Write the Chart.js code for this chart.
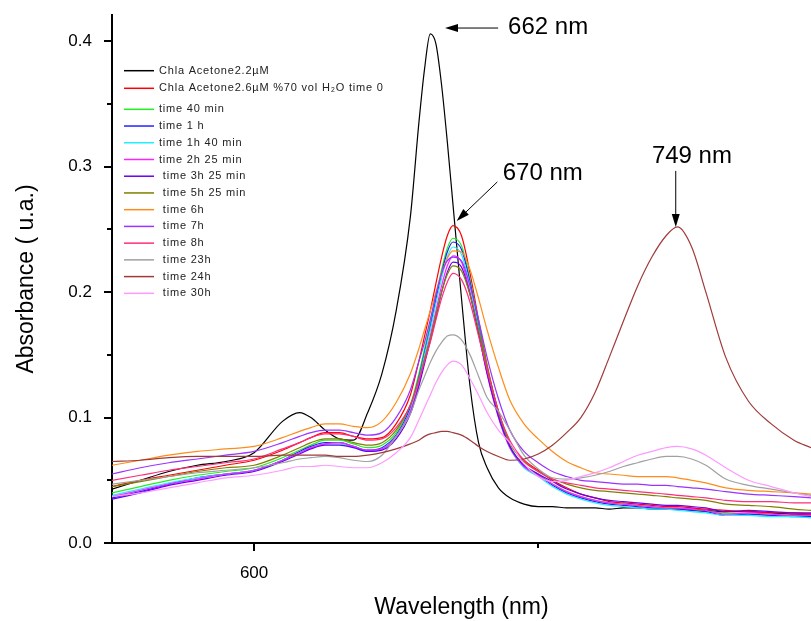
<!DOCTYPE html>
<html lang="en">
<head>
  <meta charset="UTF-8" />
  <title>Chla absorbance</title>
  <script src="https://cdn.jsdelivr.net/npm/chart.js"></script>
  <style>
    html, body { margin: 0; padding: 0; background: #fff; overflow: hidden; }
    canvas { display: block; }
  </style>
</head>
<body>
  <canvas id="grafico" width="811" height="621"></canvas>

  <script>
    // wavelengths (nm) shared by all the spectra
    const wavelengths = [550,560,570,580,590,600,610,616,620,625,630,635,640,645,650,655,658,660,662,664,666,668,670,673,676,679,682,686,690,695,700,705,710,715,720,725,730,735,740,745,749,754,759,766,774,782,790,796];

    const chlaAcetone = [.043,.05,.057,.062,.065,.072,.097,.104,.1,.09,.083,.082,.104,.135,.185,.26,.335,.378,.406,.398,.365,.32,.27,.195,.125,.08,.06,.044,.036,.031,.029,.029,.028,.028,.028,.027,.028,.028,.027,.027,.027,.027,.026,.025,.025,.024,.023,.023];
    const time0 = [.045,.05,.054,.058,.062,.066,.074,.08,.084,.088,.088,.085,.083,.084,.095,.118,.145,.165,.185,.207,.228,.245,.253,.245,.215,.178,.142,.105,.08,.066,.058,.05,.044,.039,.036,.033,.032,.031,.03,.029,.029,.028,.027,.026,.025,.024,.024,.023];
    const time40min = [.04,.045,.05,.054,.057,.06,.068,.074,.078,.082,.082,.079,.076,.078,.088,.11,.135,.155,.175,.197,.218,.235,.243,.237,.21,.175,.14,.103,.078,.062,.055,.047,.041,.037,.034,.032,.031,.03,.029,.028,.027,.026,.025,.024,.023,.022,.022,.021];
    const time1h = [.036,.041,.047,.052,.055,.058,.066,.073,.077,.08,.08,.077,.074,.076,.086,.108,.132,.152,.172,.194,.215,.232,.24,.234,.208,.173,.138,.102,.077,.061,.054,.046,.04,.036,.033,.031,.03,.029,.028,.027,.027,.026,.025,.022,.023,.022,.021,.021];
    const time1h40 = [.038,.043,.048,.052,.055,.058,.066,.072,.076,.079,.079,.076,.073,.075,.085,.106,.13,.15,.17,.191,.211,.228,.236,.23,.205,.171,.137,.101,.076,.06,.053,.045,.039,.035,.032,.03,.029,.028,.027,.027,.026,.025,.024,.022,.022,.021,.021,.02];
    const time2h25 = [.037,.042,.047,.051,.055,.058,.066,.072,.076,.079,.08,.077,.074,.075,.085,.105,.127,.146,.165,.185,.205,.221,.229,.224,.2,.168,.135,.1,.076,.061,.054,.047,.041,.037,.034,.032,.031,.03,.029,.028,.028,.027,.026,.023,.024,.023,.022,.022];
    const time3h25 = [.035,.04,.046,.05,.054,.057,.065,.071,.075,.078,.078,.076,.073,.074,.083,.103,.125,.143,.161,.18,.2,.216,.224,.22,.198,.167,.135,.101,.077,.062,.055,.049,.043,.039,.036,.034,.033,.032,.031,.03,.03,.029,.028,.025,.026,.025,.024,.024];
    const time5h25 = [.045,.049,.053,.057,.06,.062,.07,.076,.08,.083,.083,.08,.078,.08,.09,.11,.13,.147,.163,.182,.2,.214,.221,.217,.198,.17,.14,.105,.08,.065,.057,.051,.047,.044,.042,.041,.04,.039,.038,.037,.036,.035,.034,.031,.03,.029,.027,.026];
    const time6h = [.062,.066,.07,.073,.075,.077,.084,.089,.092,.095,.095,.093,.092,.097,.112,.135,.155,.17,.185,.2,.215,.227,.233,.232,.218,.195,.17,.14,.114,.095,.083,.073,.065,.06,.056,.055,.054,.053,.053,.053,.052,.05,.048,.044,.042,.041,.04,.039];
    const time7h = [.055,.06,.064,.067,.07,.073,.08,.085,.088,.09,.09,.088,.086,.088,.1,.122,.145,.16,.178,.198,.215,.225,.228,.225,.205,.178,.148,.115,.09,.073,.064,.057,.053,.05,.049,.048,.047,.047,.046,.046,.045,.044,.043,.041,.039,.038,.037,.036];
    const time8h = [.05,.054,.058,.061,.064,.067,.075,.08,.084,.087,.087,.085,.082,.083,.092,.11,.13,.145,.16,.178,.195,.208,.215,.21,.192,.165,.138,.105,.082,.066,.057,.051,.048,.046,.044,.043,.042,.041,.04,.039,.038,.037,.036,.034,.033,.033,.032,.032];
    const time23h = [.047,.05,.053,.056,.058,.06,.064,.067,.068,.069,.068,.066,.065,.07,.085,.103,.122,.133,.144,.153,.16,.165,.166,.162,.15,.133,.116,.105,.09,.07,.059,.052,.051,.052,.054,.057,.061,.064,.067,.069,.069,.067,.062,.051,.046,.043,.04,.038];
    const time24h = [.065,.066,.068,.069,.069,.069,.07,.07,.07,.07,.069,.069,.07,.072,.075,.079,.082,.085,.087,.088,.089,.089,.088,.086,.082,.077,.073,.069,.066,.067,.071,.078,.088,.1,.12,.148,.177,.205,.228,.245,.252,.236,.2,.148,.113,.095,.082,.076];
    const time30h = [.037,.04,.044,.048,.052,.054,.058,.061,.061,.062,.061,.06,.06,.064,.072,.084,.098,.108,.118,.128,.136,.142,.145,.142,.131,.118,.104,.09,.08,.063,.053,.049,.05,.053,.056,.06,.065,.07,.073,.076,.077,.075,.07,.06,.05,.045,.04,.037];

    const seriesLabels = [
      'Chla Acetone2.2µM',
      'Chla Acetone2.6µM %70 vol H₂O time 0',
      'time 40 min',
      'time 1 h',
      'time 1h 40 min',
      'time 2h 25 min',
      ' time 3h 25 min',
      ' time 5h 25 min',
      ' time 6h',
      ' time 7h',
      ' time 8h',
      ' time 23h',
      ' time 24h',
      ' time 30h'
    ];
    const seriesValues = [chlaAcetone, time0, time40min, time1h, time1h40, time2h25, time3h25, time5h25, time6h, time7h, time8h, time23h, time24h, time30h];
    const seriesColors = ['#000000', '#ff0000', '#22ee22', '#2222ff', '#22eeff', '#ff22ff', '#6a00ee', '#808000', '#ff8c1a', '#9933ff', '#ff2d7a', '#a0a0a0', '#a03a3a', '#ff99ff'];

    // axis ticks
    const yTicks = [0, 0.1, 0.2, 0.3, 0.4];
    const yMinorTicks = [0.05, 0.15, 0.25, 0.35];
    const xTicks = [600, 700];
    const xTickLabels = ['600', ''];

    // peak annotations: text, arrow tail, arrow tip, text anchor (left / middle)
    const peakLabels = ['662 nm', '670 nm', '749 nm'];
    const arrowTails = [[685.9, 0.4106], [685.6, 0.2879], [748.4, 0.2967]];
    const arrowTips = [[667.2, 0.4106], [671.3, 0.2568], [748.4, 0.252]];
    const peakTextAt = [[689.4, 0.411], [687.5, 0.2948], [740.0, 0.3084]];

    const FONT = '"Liberation Sans", Arial, sans-serif';

    const extras = {
      id: 'extras',
      afterDraw(chart) {
        const { ctx, chartArea: a, scales: { x, y } } = chart;
        ctx.save();
        ctx.strokeStyle = '#000';
        ctx.lineWidth = 2;
        const seg = (x1, y1, x2, y2) => { ctx.beginPath(); ctx.moveTo(x1, y1); ctx.lineTo(x2, y2); ctx.stroke(); };

        // tick marks
        yTicks.forEach(v => { const p = Math.round(y.getPixelForValue(v)); seg(a.left - 8, p, a.left, p); });
        yMinorTicks.forEach(v => { const p = Math.round(y.getPixelForValue(v)); seg(a.left - 5, p, a.left, p); });
        xTicks.forEach((v, i) => { const p = Math.round(x.getPixelForValue(v)); seg(p, a.bottom, p, a.bottom + (xTickLabels[i] ? 8 : 5)); });

        // legend inside the plot
        ctx.font = '11px ' + FONT;
        ctx.letterSpacing = '0.8px';
        ctx.textBaseline = 'middle';
        ctx.fillStyle = '#222';
        chart.data.datasets.forEach((ds, i) => {
          const ly = a.top + (i < 2 ? 55.7 + i * 17.6 : 94.3 + (i - 2) * 16.73);
          ctx.strokeStyle = ds.borderColor;
          ctx.lineWidth = 1.5;
          seg(a.left + 12, ly, a.left + 42, ly);
          ctx.fillText(ds.label, a.left + 47, ly);
        });
        ctx.letterSpacing = '0px';

        // peak arrows + labels
        ctx.strokeStyle = '#000';
        ctx.fillStyle = '#000';
        ctx.lineWidth = 1;
        ctx.font = '24px ' + FONT;
        peakLabels.forEach((txt, i) => {
          const tx = x.getPixelForValue(arrowTails[i][0]), ty = y.getPixelForValue(arrowTails[i][1]);
          const hx = x.getPixelForValue(arrowTips[i][0]), hy = y.getPixelForValue(arrowTips[i][1]);
          const ang = Math.atan2(hy - ty, hx - tx);
          const len = 13, half = 4;
          const bx = hx - len * Math.cos(ang), by = hy - len * Math.sin(ang);
          seg(tx, ty, bx, by);
          ctx.beginPath();
          ctx.moveTo(hx, hy);
          ctx.lineTo(bx + half * Math.sin(ang), by - half * Math.cos(ang));
          ctx.lineTo(bx - half * Math.sin(ang), by + half * Math.cos(ang));
          ctx.closePath();
          ctx.fill();
          ctx.fillText(txt, x.getPixelForValue(peakTextAt[i][0]), y.getPixelForValue(peakTextAt[i][1]));
        });
        ctx.restore();
      }
    };

    new Chart(document.getElementById('grafico'), {
      type: 'line',
      data: {
        datasets: seriesLabels.map((label, i) => ({
          label,
          data: wavelengths.map((w, k) => ({ x: w, y: seriesValues[i][k] })),
          borderColor: seriesColors[i],
          borderWidth: 1.2,
          pointRadius: 0,
          fill: false,
          cubicInterpolationMode: 'monotone',
          order: seriesLabels.length - i
        }))
      },
      options: {
        responsive: false,
        animation: false,
        devicePixelRatio: 1,
        layout: { padding: { top: 15, right: 0, left: 0, bottom: 0 } },
        plugins: { legend: { display: false }, tooltip: { enabled: false } },
        scales: {
          x: {
            type: 'linear',
            min: 550,
            max: 796,
            grid: { display: false, drawTicks: false },
            border: { display: true, color: '#000', width: 2 },
            afterBuildTicks: s => { s.ticks = xTicks.map(v => ({ value: v })); },
            afterFit: s => { s.height = 78; s.paddingLeft = 0; s.paddingRight = 0; },
            ticks: {
              color: '#000',
              font: { family: FONT, size: 17 },
              padding: 20,
              maxRotation: 0,
              callback: v => xTickLabels[xTicks.indexOf(v)]
            },
            title: {
              display: true,
              text: 'Wavelength (nm)',
              color: '#000',
              font: { family: FONT, size: 23 },
              padding: { top: 0, bottom: 0 }
            }
          },
          y: {
            min: 0,
            max: 0.421,
            grid: { display: false, drawTicks: false },
            border: { display: true, color: '#000', width: 2 },
            afterBuildTicks: s => { s.ticks = yTicks.map(v => ({ value: v })); },
            afterFit: s => { s.width = 112; s.paddingTop = 0; s.paddingBottom = 0; },
            ticks: {
              color: '#000',
              font: { family: FONT, size: 17 },
              padding: 20,
              callback: v => v.toFixed(1)
            },
            title: {
              display: true,
              text: 'Absorbance ( u.a.)',
              color: '#000',
              font: { family: FONT, size: 23 },
              padding: { top: 13, bottom: 0 }
            }
          }
        }
      },
      plugins: [extras]
    });
  </script>
</body>
</html>
